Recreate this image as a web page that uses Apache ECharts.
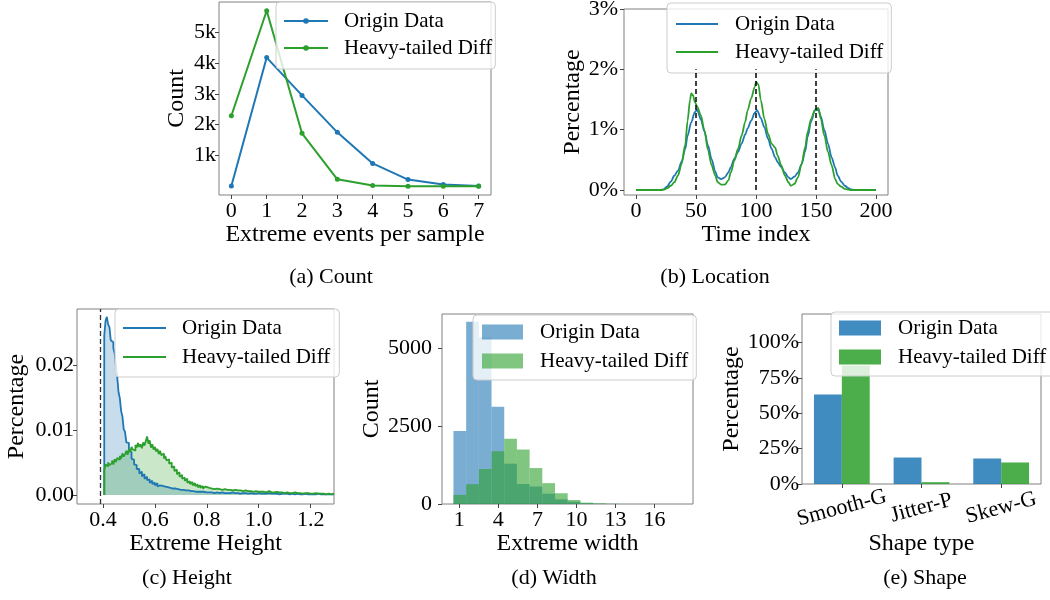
<!DOCTYPE html>
<html><head><meta charset="utf-8">
<script src="https://cdn.jsdelivr.net/npm/echarts@6/dist/echarts.min.js"></script>
<style>html,body{margin:0;padding:0;background:#fff}#c{width:1050px;height:600px}</style>
</head><body><div id="c"></div>
<script>
// ---------- (a) Count ----------
const countX = [0, 1, 2, 3, 4, 5, 6, 7];
const countOrigin = [10, 4180, 2950, 1750, 740, 215, 55, 10];
const countHeavy = [2290, 5700, 1720, 225, 25, 3, 3, 3];
const countTicksX = [0, 1, 2, 3, 4, 5, 6, 7];
const countTicksY = [1000, 2000, 3000, 4000, 5000];

// ---------- (b) Location ----------
const locXOrigin = [0, 20, 23, 26, 29, 32, 35, 38, 41, 43, 46, 49, 51, 54, 57, 60, 63, 66, 68, 71, 74, 77, 79, 82, 85, 88, 91, 93, 96, 99, 101, 104, 107, 110, 113, 116, 118, 121, 124, 127, 129, 132, 135, 138, 141, 143, 146, 149, 152, 154, 157, 160, 163, 166, 168, 171, 174, 177, 179, 182, 200];
const locOrigin = [0, 0, 0.01, 0.06, 0.14, 0.24, 0.32, 0.47, 0.68, 0.9, 1.12, 1.29, 1.33, 1.17, 0.97, 0.74, 0.51, 0.31, 0.21, 0.18, 0.21, 0.29, 0.38, 0.52, 0.63, 0.77, 0.92, 1.02, 1.15, 1.28, 1.32, 1.19, 1.04, 0.85, 0.68, 0.54, 0.46, 0.38, 0.29, 0.21, 0.18, 0.22, 0.29, 0.43, 0.64, 0.88, 1.14, 1.32, 1.33, 1.22, 0.99, 0.77, 0.54, 0.37, 0.24, 0.14, 0.07, 0.03, 0.01, 0, 0];
const locXHeavy = [0, 21, 23, 26, 29, 32, 35, 38, 41, 43, 45, 46, 47.5, 49, 51, 54, 57, 60, 63, 66, 68, 71, 74, 77, 79, 82, 85, 88, 91, 93, 96, 99, 100, 102, 104, 107, 110, 113, 116, 118, 121, 124, 127, 129, 132, 135, 138, 141, 143, 146, 149, 152, 154, 157, 160, 163, 166, 168, 171, 174, 177, 179, 200];
const locHeavy = [0, 0, 0.005, 0.03, 0.07, 0.13, 0.24, 0.43, 0.75, 1.15, 1.49, 1.6, 1.57, 1.46, 1.38, 1.24, 0.99, 0.66, 0.41, 0.24, 0.13, 0.09, 0.09, 0.16, 0.29, 0.49, 0.68, 0.9, 1.13, 1.32, 1.52, 1.71, 1.79, 1.75, 1.49, 1.18, 0.93, 0.77, 0.70, 0.57, 0.41, 0.24, 0.13, 0.07, 0.10, 0.21, 0.43, 0.71, 0.96, 1.18, 1.32, 1.36, 1.18, 0.9, 0.63, 0.41, 0.18, 0.10, 0.055, 0.02, 0.005, 0, 0];
const locPeaks = [50, 100, 150];
const locPeakTop = 2;
const locTicksX = [0, 50, 100, 150, 200];
const locTicksY = [0, 1, 2, 3];

// ---------- (c) Height ----------
const heightEdges = [0.405,0.41,0.415,0.42,0.425,0.43,0.435,0.44,0.445,0.45,
 0.455,0.46,0.465,0.47,0.475,0.48,0.485,0.49,0.495,0.5,
 0.505,0.51,0.515,0.52,0.525,0.53,0.535,0.54,0.545,0.55,
 0.555,0.56,0.565,0.57,0.575,0.58,0.585,0.59,0.595,0.6,
 0.605,0.61,0.615,0.62,0.625,0.63,0.635,0.64,0.645,0.65,
 0.655,0.66,0.665,0.67,0.675,0.68,0.685,0.69,0.695,0.7,
 0.705,0.71,0.715,0.72,0.725,0.73,0.735,0.74,0.745,0.75,
 0.755,0.76,0.765,0.77,0.775,0.78,0.785,0.79,0.795,
 0.8,0.81,0.82,0.83,0.84,0.85,0.86,0.87,0.88,0.89,
 0.9,0.91,0.92,0.93,0.94,0.95,0.96,0.97,0.98,0.99,
 1.0,1.01,1.02,1.03,1.04,1.05,1.06,1.07,1.08,1.09,
 1.1,1.11,1.12,1.13,1.14,1.15,1.16,1.17,1.18,1.19,
 1.2,1.21,1.22,1.23,1.24,1.25,1.26,1.27,1.28,1.29];
const heightOrigin = [.0245,.0268,.0274,.0262,.0258,.0238,.0235,.0226,.0218,.0198,
 .0181,.0158,.0149,.0129,.0121,.0101,.0097,.0081,.0080,.0068,
 .0066,.0056,.0054,.0047,.0046,.0040,.0040,.0033,.0036,.0029,
 .0032,.0025,.0028,.0023,.0024,.0019,.0022,.0017,.0019,.0015,
 .0018,.0013,.0015,.0013,.0014,.0011,.0013,.0010,.0012,.0009,
 .0011,.0009,.0010,.0008,.0010,.0007,.0009,.0007,.0008,.0006,
 .0008,.0006,.0007,.0005,.0007,.0005,.0006,.0004,.0006,.0004,
 .0005,.0004,.0005,.0004,.0005,.0003,.0005,.0004,.0004,
 .0004,.0004,.0003,.0004,.0003,.0004,.0003,.0003,.0003,.0004,
 .0003,.0003,.0002,.0003,.0003,.0002,.0003,.0002,.0002,.0003,
 .0002,.0002,.0002,.0003,.0002,.0002,.0002,.0001,.0002,.0002,
 .0002,.0001,.0002,.0001,.0002,.0001,.0001,.0002,.0001,.0001,
 .0001,.0001,.0002,.0001,.0001,.0001,.0001,.0001,.0001];
const heightHeavy = [.0038,.0047,.0044,.0050,.0046,.0049,.0053,.0047,.0055,.0051,
 .0057,.0054,.0060,.0056,.0064,.0059,.0063,.0068,.0062,.0071,
 .0066,.0074,.0070,.0068,.0077,.0073,.0080,.0074,.0078,.0072,
 .0081,.0076,.0083,.0090,.0079,.0084,.0073,.0078,.0070,.0074,
 .0067,.0071,.0063,.0068,.0061,.0064,.0056,.0060,.0053,.0055,
 .0048,.0050,.0042,.0044,.0037,.0039,.0032,.0035,.0028,.0031,
 .0025,.0027,.0022,.0025,.0019,.0021,.0017,.0020,.0015,.0018,
 .0014,.0016,.0012,.0015,.0011,.0014,.0010,.0013,.0010,
 .0011,.0010,.0009,.0010,.0009,.0008,.0009,.0008,.0008,.0007,
 .0008,.0007,.0007,.0006,.0007,.0006,.0006,.0005,.0006,.0005,
 .0005,.0005,.0004,.0006,.0004,.0004,.0005,.0004,.0004,.0003,
 .0004,.0003,.0003,.0004,.0003,.0003,.0002,.0003,.0003,.0002,
 .0002,.0003,.0002,.0002,.0002,.0001,.0002,.0001,.0002];
const heightThreshold = 0.39;
const heightTicksX = [0.4, 0.6, 0.8, 1.0, 1.2];
const heightTicksY = [0, 0.01, 0.02];

// ---------- (d) Width ----------
const widthEdges = [0.55, 1.525, 2.5, 3.475, 4.45, 5.425, 6.4, 7.375, 8.35, 9.325, 10.3, 11.275, 12.25, 13.225];
const widthOrigin = [2338, 5840, 5350, 3114, 1293, 640, 560, 330, 150, 75, 25, 8, 3];
const widthHeavy = [291, 636, 1121, 1692, 2090, 1746, 1153, 668, 345, 129, 43, 20, 5];
const widthTicksX = [1, 4, 7, 10, 13, 16];
const widthTicksY = [0, 2500, 5000];

// ---------- (e) Shape ----------
const shapeTypes = ['Smooth-G', 'Jitter-P', 'Skew-G'];
const shapeOrigin = [63.2, 18.7, 18.0];
const shapeHeavy = [83.6, 1.3, 15.2];
const shapeTicksY = [0, 25, 50, 75, 100];

const captions = ['(a) Count', '(b) Location', '(c) Height', '(d) Width', '(e) Shape'];

// ---------- styling ----------
const FONT = '"Liberation Serif", "Times New Roman", serif';
const BLUE = '#1f77b4', GREEN = '#2ca02c';
const SPINE = '#808080';

function valAxis(gi, min, max, ticks, fmt, name, nameGap, margin, extra) {
  return Object.assign({
    type: 'value', gridIndex: gi, min: min, max: max,
    axisLine: { show: false, onZero: false },
    axisTick: { show: true, inside: false, length: 4, customValues: ticks, lineStyle: { color: '#444', width: 1 } },
    axisLabel: { customValues: ticks, formatter: fmt, color: '#000', fontFamily: FONT, fontSize: 22, margin: margin },
    splitLine: { show: false },
    name: name, nameLocation: 'middle', nameGap: nameGap,
    nameTextStyle: { fontFamily: FONT, fontSize: 24, color: '#000' }
  }, extra || {});
}
function grid(l, t, r, b) {
  return { left: l, top: t, width: r - l, height: b - t, show: true, borderColor: SPINE, borderWidth: 1,
           backgroundColor: 'transparent', containLabel: false, outerBoundsMode: 'none' };
}
function legend(left, top, items, iw, ih, pad, textPad, gap) {
  return {
    orient: 'vertical', left: left, top: top, data: items, selectedMode: false,
    itemWidth: iw, itemHeight: ih, itemGap: gap, padding: pad,
    textStyle: { fontFamily: FONT, fontSize: 21, color: '#000', lineHeight: 22, padding: [0, 0, 0, textPad] },
    backgroundColor: 'rgba(255,255,255,0.8)', borderColor: '#cccccc', borderWidth: 1, borderRadius: 4
  };
}
function stepData(edges, vals) {
  const d = [[edges[0], 0]];
  for (let i = 0; i < vals.length; i++) d.push([edges[i], vals[i]]);
  d.push([edges[vals.length], vals[vals.length - 1]]);
  return d;
}
function binData(edges, vals) {
  return vals.map((v, i) => [edges[i], edges[i + 1], v]);
}
function binSeries(name, edges, vals, color) {
  return {
    type: 'custom', name: name, xAxisIndex: 3, yAxisIndex: 3,
    data: binData(edges, vals), encode: { x: [0, 1], y: 2 },
    renderItem: function (params, api) {
      const p0 = api.coord([api.value(0), api.value(2)]);
      const p1 = api.coord([api.value(1), 0]);
      return { type: 'rect', shape: { x: p0[0], y: p0[1], width: p1[0] - p0[0], height: p1[1] - p0[1] }, style: { fill: color } };
    }
  };
}
const pairs = (xs, ys) => xs.map((x, i) => [x, ys[i]]);
const captionPos = [[331, 277], [715, 277], [187, 578], [554, 578], [925, 578]];

const option = {
  animation: false,
  backgroundColor: '#fff',
  grid: [grid(219, 2, 491, 195), grid(624, 9, 888, 195), grid(77, 309, 334, 504), grid(442, 314, 693, 504), grid(802, 314, 1041, 484)],
  xAxis: [
    valAxis(0, -0.35, 7.35, countTicksX, v => String(v), 'Extreme events per sample', 26, 5),
    valAxis(1, -10, 210, locTicksX, v => String(v), 'Time index', 26, 5),
    valAxis(2, 0.3, 1.29, heightTicksX, v => v.toFixed(1), 'Extreme Height', 24, 5),
    valAxis(3, -0.33, 18.95, widthTicksX, v => String(v), 'Extreme width', 24, 5),
    {
      type: 'category', gridIndex: 4, data: shapeTypes,
      axisLine: { show: false, onZero: false },
      axisTick: { show: true, alignWithLabel: true, length: 4, lineStyle: { color: '#444' } },
      axisLabel: { color: '#000', fontFamily: FONT, fontSize: 22, rotate: 15, align: 'center', verticalAlign: 'middle', margin: 24, interval: 0 },
      splitLine: { show: false },
      name: 'Shape type', nameLocation: 'middle', nameGap: 41,
      nameTextStyle: { fontFamily: FONT, fontSize: 24, color: '#000' }
    }
  ],
  yAxis: [
    valAxis(0, -285, 5985, countTicksY, v => (v / 1000) + 'k', 'Count', 30, 3),
    valAxis(1, -0.083, 3.0, locTicksY, v => v + '%', 'Percentage', 37, 6),
    valAxis(2, -0.00138, 0.0286, heightTicksY, v => v.toFixed(2), 'Percentage', 48, 3),
    valAxis(3, 0, 6090, widthTicksY, v => String(v), 'Count', 54, 10),
    valAxis(4, 0, 120, shapeTicksY, v => v + '%', 'Percentage', 54, 3)
  ],
  legend: [
    legend(276, 2, [{ name: 'Origin Data' }, { name: 'Heavy-tailed Diff' }], 44, 7, [8, 3, 10, 7], 11, 5),
    legend(667, 3, [{ name: 'Origin Data', icon: 'rect', itemStyle: { color: BLUE } }, { name: 'Heavy-tailed Diff', icon: 'rect', itemStyle: { color: GREEN } }], 42, 2, [10, 8, 10, 9], 12, 6),
    legend(115, 309, [{ name: 'Origin Data', icon: 'rect', itemStyle: { color: BLUE } }, { name: 'Heavy-tailed Diff', icon: 'rect', itemStyle: { color: GREEN } }], 43, 2, [8, 9, 9, 8], 11, 7),
    legend(473, 315, [{ name: 'Origin Data', icon: 'rect', itemStyle: { color: 'rgba(31,119,180,0.6)' } }, { name: 'Heavy-tailed Diff', icon: 'rect', itemStyle: { color: 'rgba(44,160,44,0.6)' } }], 41, 15, [6, 8, 8, 9], 12, 7),
    legend(831, 312, [{ name: 'Origin Data', icon: 'rect', itemStyle: { color: 'rgba(31,119,180,0.85)' } }, { name: 'Heavy-tailed Diff', icon: 'rect', itemStyle: { color: 'rgba(44,160,44,0.85)' } }], 42, 15, [5, 8, 8, 8], 12, 7)
  ],
  series: [
    { type: 'line', name: 'Origin Data', xAxisIndex: 0, yAxisIndex: 0, data: pairs(countX, countOrigin),
      symbol: 'circle', symbolSize: 5, lineStyle: { color: BLUE, width: 2 }, itemStyle: { color: BLUE } },
    { type: 'line', name: 'Heavy-tailed Diff', xAxisIndex: 0, yAxisIndex: 0, data: pairs(countX, countHeavy),
      symbol: 'circle', symbolSize: 5, lineStyle: { color: GREEN, width: 2 }, itemStyle: { color: GREEN } },

    { type: 'line', name: 'Origin Data', xAxisIndex: 1, yAxisIndex: 1, data: pairs(locXOrigin, locOrigin),
      symbol: 'none', smooth: 0.3, smoothMonotone: 'x', lineStyle: { color: BLUE, width: 1.8 }, itemStyle: { color: BLUE },
      markLine: { silent: true, symbol: ['none', 'none'], label: { show: false },
        lineStyle: { color: '#000', type: [5, 3], width: 1.5 },
        data: locPeaks.map(p => [{ coord: [p, 0] }, { coord: [p, locPeakTop] }]) } },
    { type: 'line', name: 'Heavy-tailed Diff', xAxisIndex: 1, yAxisIndex: 1, data: pairs(locXHeavy, locHeavy),
      symbol: 'none', smooth: 0.3, smoothMonotone: 'x', lineStyle: { color: GREEN, width: 1.8 }, itemStyle: { color: GREEN } },

    { type: 'line', name: 'Origin Data', xAxisIndex: 2, yAxisIndex: 2, data: stepData(heightEdges, heightOrigin),
      step: 'end', symbol: 'none', lineStyle: { color: BLUE, width: 1.8 }, itemStyle: { color: BLUE },
      areaStyle: { color: BLUE, opacity: 0.25 },
      markLine: { silent: true, symbol: ['none', 'none'], label: { show: false },
        lineStyle: { color: '#333', type: [5, 3], width: 1.3 }, data: [{ xAxis: heightThreshold }] } },
    { type: 'line', name: 'Heavy-tailed Diff', xAxisIndex: 2, yAxisIndex: 2, data: stepData(heightEdges, heightHeavy),
      step: 'end', symbol: 'none', lineStyle: { color: GREEN, width: 1.8 }, itemStyle: { color: GREEN },
      areaStyle: { color: GREEN, opacity: 0.25 } },

    binSeries('Origin Data', widthEdges, widthOrigin, 'rgba(31,119,180,0.6)'),
    binSeries('Heavy-tailed Diff', widthEdges, widthHeavy, 'rgba(44,160,44,0.6)'),

    { type: 'bar', name: 'Origin Data', xAxisIndex: 4, yAxisIndex: 4, data: shapeOrigin, barWidth: '35%', barGap: '0%',
      itemStyle: { color: 'rgba(31,119,180,0.85)' } },
    { type: 'bar', name: 'Heavy-tailed Diff', xAxisIndex: 4, yAxisIndex: 4, data: shapeHeavy, barWidth: '35%', barGap: '0%',
      itemStyle: { color: 'rgba(44,160,44,0.85)' } }
  ],
  graphic: captions.map((t, i) => ({
    type: 'text', x: captionPos[i][0], y: captionPos[i][1],
    style: { text: t, font: '22px ' + FONT, fill: '#000', textAlign: 'center', textVerticalAlign: 'middle' }
  }))
};
const chart = echarts.init(document.getElementById('c'));
chart.setOption(option);
</script></body></html>
